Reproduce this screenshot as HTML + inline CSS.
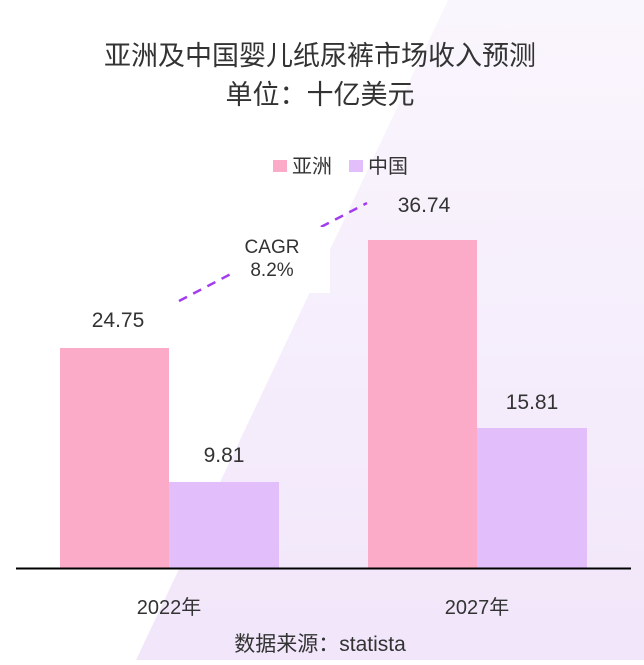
<!DOCTYPE html>
<html><head><meta charset="utf-8"><style>
body{margin:0;width:644px;height:660px;overflow:hidden;background:#fff;font-family:"Liberation Sans","Noto Sans CJK SC",sans-serif;}
svg text{font-family:"Liberation Sans","Noto Sans CJK SC",sans-serif;fill:#333;}
</style></head><body>
<svg width="644" height="660" viewBox="0 0 644 660">
<defs><linearGradient id="g" x1="0" y1="0" x2="0" y2="1"><stop offset="0" stop-color="#faf6fd"/><stop offset="1" stop-color="#f1e6fa"/></linearGradient></defs>
<polygon points="448,0 644,0 644,660 136,660" fill="url(#g)"/>
<text x="320" y="65" font-size="27" text-anchor="middle">亚洲及中国婴儿纸尿裤市场收入预测</text>
<text x="320" y="104" font-size="27" text-anchor="middle">单位：十亿美元</text>
<rect x="273" y="160" width="14" height="12" fill="#fbabc7"/>
<text x="292" y="173" font-size="20">亚洲</text>
<rect x="349" y="160" width="14" height="12" fill="#e2bffa"/>
<text x="368" y="173" font-size="20">中国</text>
<line x1="179" y1="301" x2="367" y2="203" stroke="#a23cf0" stroke-width="2.5" stroke-dasharray="9,7"/>
<rect x="232" y="227" width="98" height="66" fill="#fff"/>
<text x="272" y="253" font-size="19" text-anchor="middle">CAGR</text>
<text x="272" y="276" font-size="19" text-anchor="middle">8.2%</text>
<rect x="60" y="348" width="109" height="220" fill="#fbabc7"/>
<rect x="169" y="482" width="110" height="86" fill="#e2bffa"/>
<rect x="368" y="240" width="109" height="328" fill="#fbabc7"/>
<rect x="477" y="428" width="110" height="140" fill="#e2bffa"/>
<line x1="16" y1="568.5" x2="631" y2="568.5" stroke="#000" stroke-width="2"/>
<g font-size="21" text-anchor="middle">
<text x="118" y="327">24.75</text>
<text x="224" y="462">9.81</text>
<text x="424" y="212">36.74</text>
<text x="532" y="409">15.81</text>
</g>
<g font-size="20" text-anchor="middle">
<text x="169" y="614">2022年</text>
<text x="477" y="614">2027年</text>
<text x="320" y="651" font-size="21">数据来源：statista</text>
</g>
</svg>
</body></html>
